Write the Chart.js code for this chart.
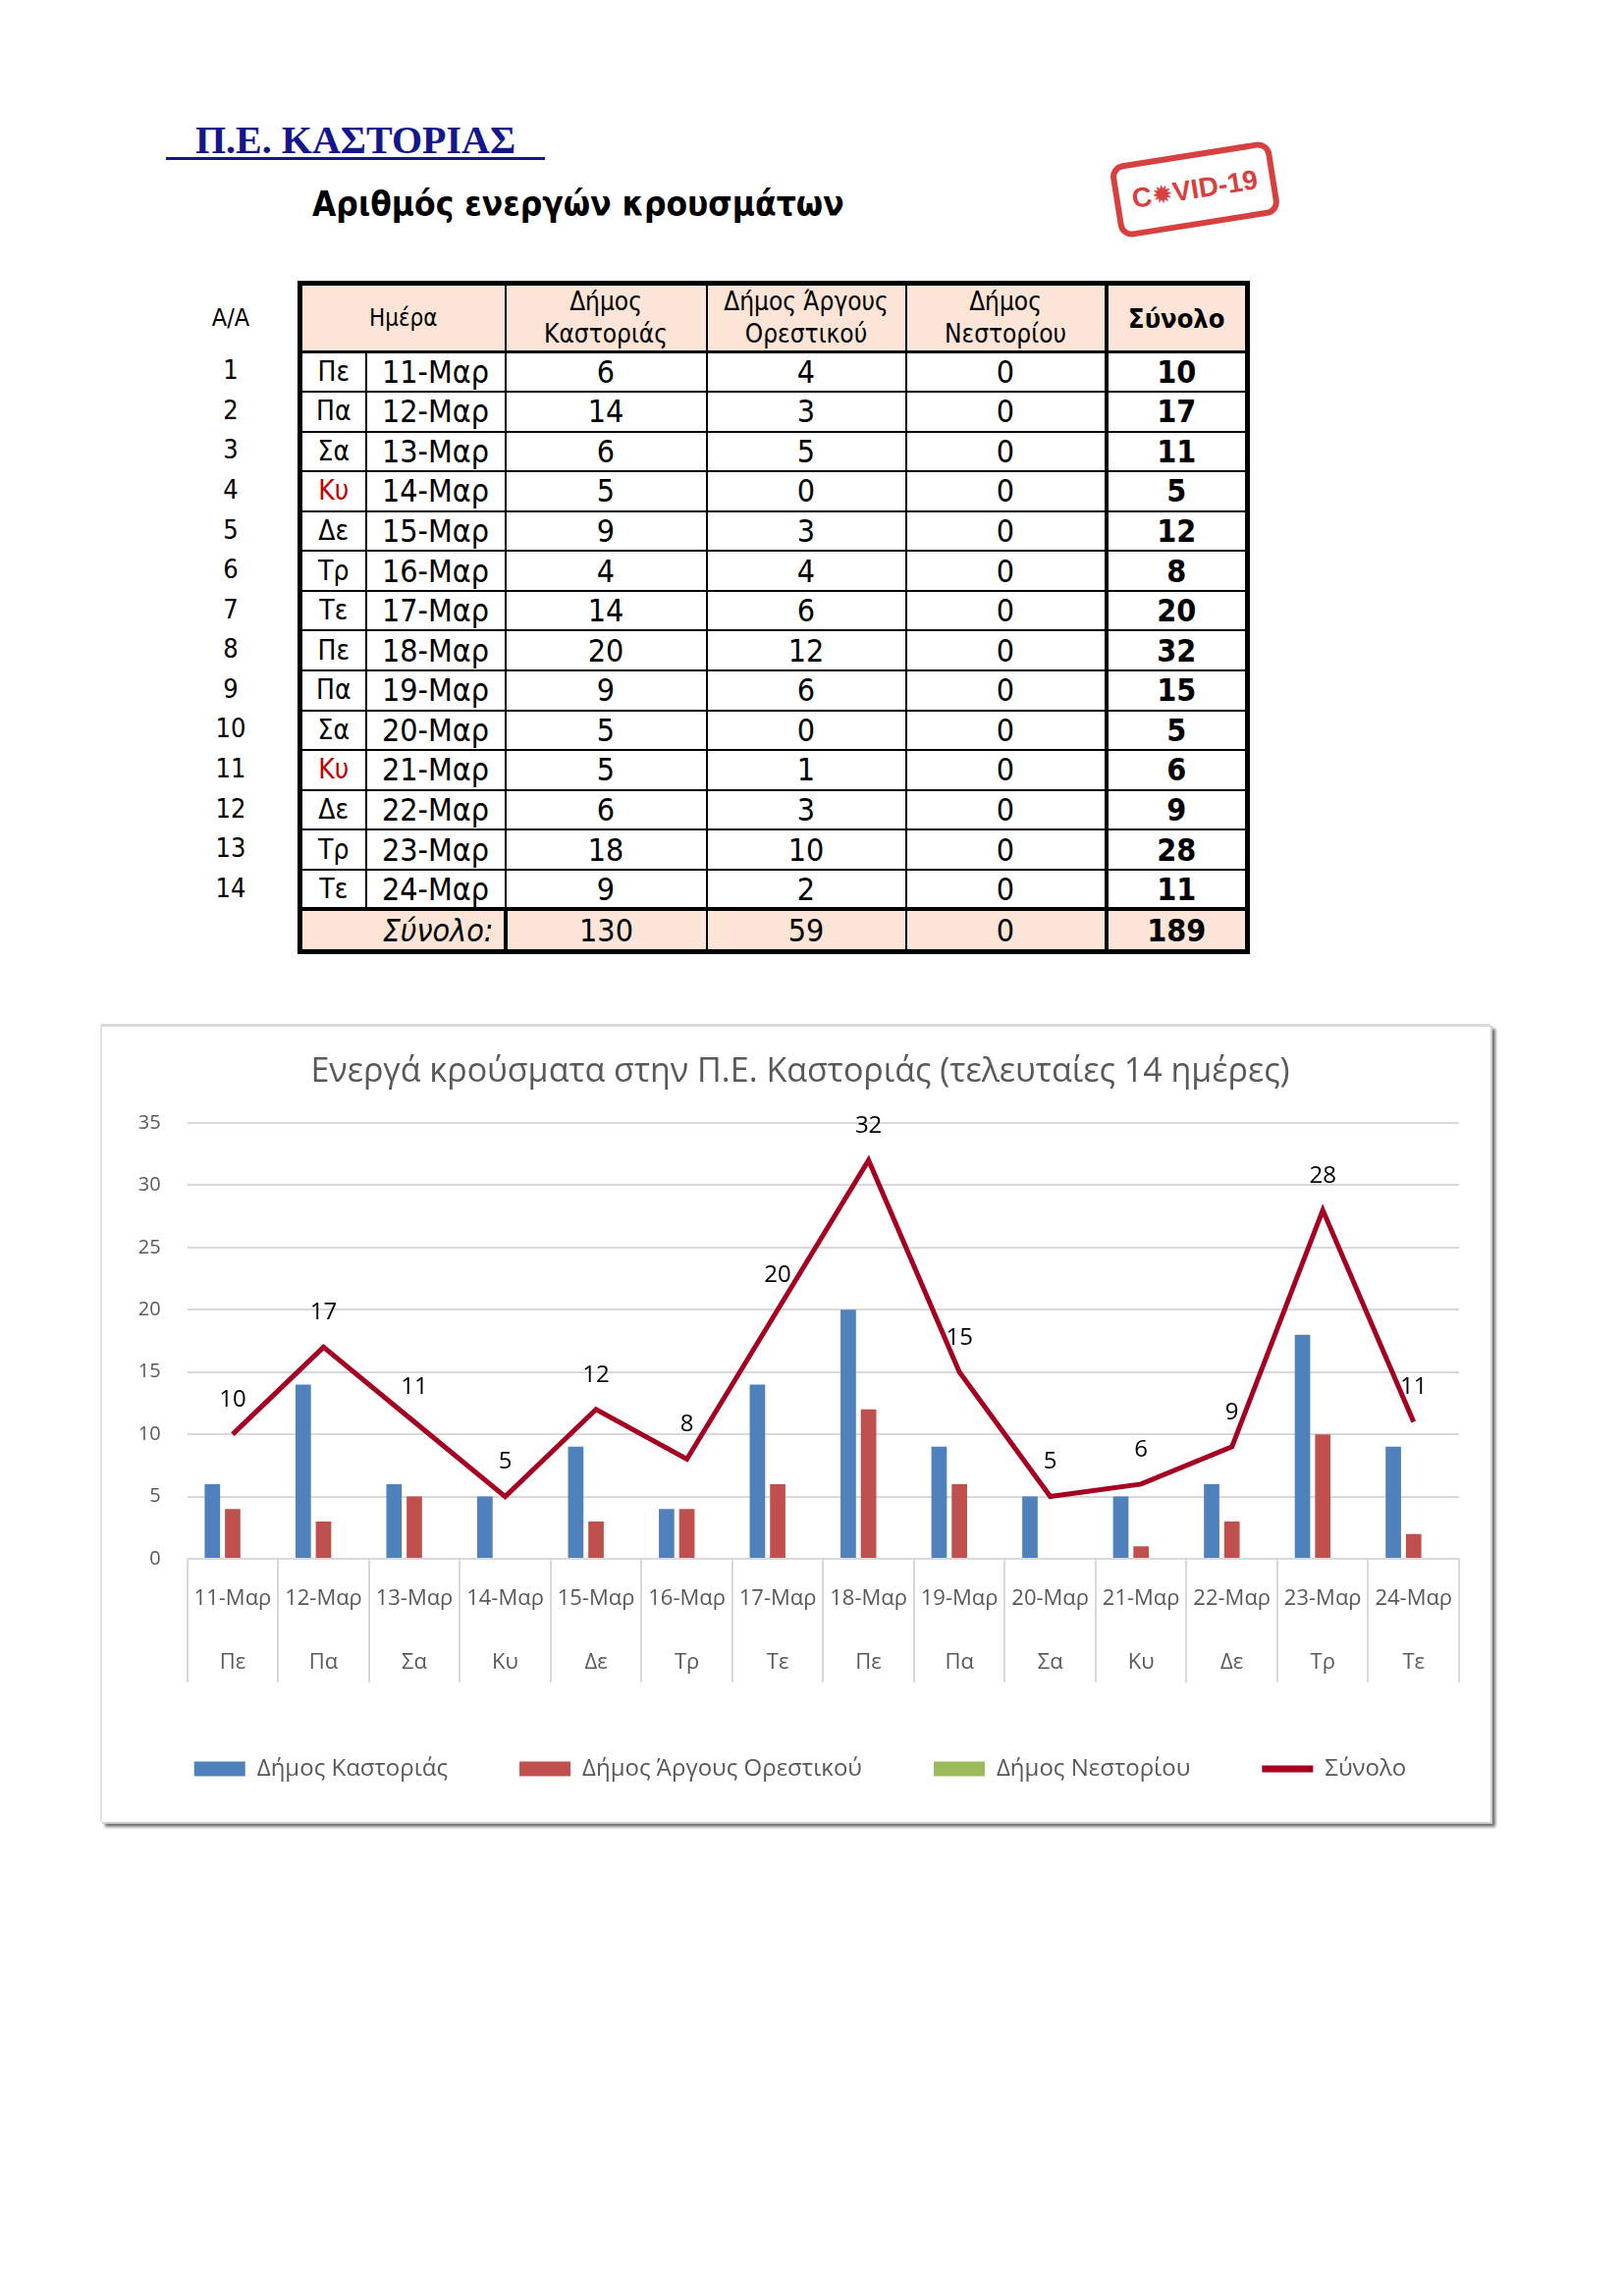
<!DOCTYPE html>
<html lang="el">
<head>
<meta charset="utf-8">
<title>Π.Ε. Καστοριάς - ενεργά κρούσματα</title>
<script src="https://cdn.jsdelivr.net/npm/chart.js@4.4.1/dist/chart.umd.min.js"></script>
<style>
  body { margin: 0; width: 1654px; height: 2339px; background: #fff; position: relative; overflow: hidden; }
  #pageTitle {
    position: absolute; left: 169px; top: 119px; line-height: 1;
    font: bold 40px 'Liberation Serif', serif; color: #15158c; white-space: pre;
    text-decoration: underline; text-decoration-thickness: 3px; text-underline-offset: 4px;
  }
  #subTitle {
    position: absolute; left: 318px; top: 188px; line-height: 1; white-space: nowrap;
    font: bold 35px 'DejaVu Sans Condensed', 'DejaVu Sans', sans-serif; color: #000;
  }
  #stamp {
    position: absolute; left: 1134px; top: 155px; width: 166px; height: 76px; box-sizing: border-box;
    border: 6px solid #d42b2b; border-radius: 14px; transform: rotate(-9deg);
    color: #d42b2b; font: bold 28px 'Liberation Sans', sans-serif; text-align: center; line-height: 64px;
    opacity: 0.9;
  }
  #stamp span { font-family: 'DejaVu Sans'; font-size: 26px; }
  #cases {
    position: absolute; left: 303px; top: 286px; border-collapse: collapse; table-layout: fixed;
    font-family: 'DejaVu Sans Condensed', 'DejaVu Sans', sans-serif; color: #000;
    border: 5px solid #000;
  }
  #cases td { border: 2px solid #000; text-align: center; padding: 0; font-size: 32px; line-height: 1; }
  #cases tr.head td { background: #fce4d6; font-size: 26px; line-height: 33px; border-bottom-width: 3px; }
  #cases tr.foot td { background: #fce4d6; border-top-width: 4px; }
  #cases td.sum { font-weight: bold; font-size: 32px; border-left-width: 4px; }
  #cases td.red { color: #c00000; }
  .aa { position: absolute; width: 60px; left: 205px; text-align: center; font: 27px 'DejaVu Sans Condensed', 'DejaVu Sans', sans-serif; line-height: 1; }
  #frame {
    position: absolute; left: 102px; top: 1043px; width: 1416px; height: 813px; box-sizing: border-box;
    border-top: 3px solid #d9d9d9; border-left: 2px solid #e3e3e3;
    box-shadow: 2px 2px 0 #cfcfcf, 5px 5px 3px #6e6e6e;
  }
  #chartWrap { position: absolute; left: 102px; top: 1043px; width: 1416px; height: 813px; }
</style>
</head>
<body>
<div id="pageTitle">   Π.Ε. ΚΑΣΤΟΡΙΑΣ   </div>
<div id="subTitle">Αριθμός ενεργών κρουσμάτων</div>
<div id="stamp">C<span>✹</span>VID-19</div>
<table id="cases"></table>
<div id="frame"></div>
<div id="chartWrap"><canvas id="chart" width="1416" height="813"></canvas></div>
<script>
// δεδομένα τελευταίων 14 ημερών
const dates = ['11-Μαρ', '12-Μαρ', '13-Μαρ', '14-Μαρ', '15-Μαρ', '16-Μαρ', '17-Μαρ',
               '18-Μαρ', '19-Μαρ', '20-Μαρ', '21-Μαρ', '22-Μαρ', '23-Μαρ', '24-Μαρ'];
const days = ['Πε', 'Πα', 'Σα', 'Κυ', 'Δε', 'Τρ', 'Τε', 'Πε', 'Πα', 'Σα', 'Κυ', 'Δε', 'Τρ', 'Τε'];
const kastoria = [6, 14, 6, 5, 9, 4, 14, 20, 9, 5, 5, 6, 18, 9];
const argos = [4, 3, 5, 0, 3, 4, 6, 12, 6, 0, 1, 3, 10, 2];
const nestorio = [0, 0, 0, 0, 0, 0, 0, 0, 0, 0, 0, 0, 0, 0];
const totals = [10, 17, 11, 5, 12, 8, 20, 32, 15, 5, 6, 9, 28, 11];
const columnTotals = [130, 59, 0, 189];
const seriesNames = ['Δήμος Καστοριάς', 'Δήμος Άργους Ορεστικού', 'Δήμος Νεστορίου', 'Σύνολο'];

// πίνακας
const colWidths = [67, 142, 205, 203, 204, 144];
const headHeight = 69, rowHeight = 40.57, footHeight = 43;
const table = document.getElementById('cases');
let html = '<colgroup>' + colWidths.map(w => `<col style="width:${w}px">`).join('') + '</colgroup>';
html += `<tr class="head" style="height:${headHeight}px"><td colspan="2" style="font-size:24px">Ημέρα</td>` +
        '<td>Δήμος<br>Καστοριάς</td><td>Δήμος Άργους<br>Ορεστικού</td><td>Δήμος<br>Νεστορίου</td>' +
        '<td class="sum" style="font-size:27px">Σύνολο</td></tr>';
dates.forEach((d, i) => {
    const red = days[i] === 'Κυ' ? ' class="red"' : '';
    html += `<tr style="height:${rowHeight}px"><td${red} style="font-size:28px">${days[i]}</td><td>${d}</td>` +
            `<td>${kastoria[i]}</td><td>${argos[i]}</td><td>${nestorio[i]}</td><td class="sum">${totals[i]}</td></tr>`;
});
html += `<tr class="foot" style="height:${footHeight}px"><td colspan="2" style="text-align:right;font-style:italic;padding-right:10px">Σύνολο:</td>` +
        `<td style="border-left-width:4px">${columnTotals[0]}</td><td>${columnTotals[1]}</td><td>${columnTotals[2]}</td>` +
        `<td class="sum">${columnTotals[3]}</td></tr>`;
table.innerHTML = html;

// στήλη Α/Α
function addAA(text, centerY, size) {
    const el = document.createElement('div');
    el.className = 'aa';
    el.textContent = text;
    if (size) el.style.fontSize = size + 'px';
    el.style.top = (centerY - 14) + 'px';
    document.body.appendChild(el);
}
addAA('A/A', 325, 25);
dates.forEach((d, i) => addAA(String(i + 1), 357 + rowHeight * (i + 0.5)));

// ετικέτες τιμών πάνω από τη γραμμή Σύνολο
const lineLabels = {
    id: 'lineLabels',
    afterDatasetsDraw(chart) {
        const meta = chart.getDatasetMeta(3);
        const ctx = chart.ctx;
        ctx.save();
        ctx.font = "24px 'Open Sans'";
        ctx.fillStyle = '#000';
        ctx.textAlign = 'center';
        ctx.textBaseline = 'middle';
        meta.data.forEach((pt, i) => ctx.fillText(totals[i], pt.x, pt.y - 35));
        ctx.restore();
    }
};

Chart.defaults.font.family = "'Open Sans'";
Chart.defaults.color = '#595959';

new Chart(document.getElementById('chart'), {
    type: 'bar',
    data: {
        labels: dates.map((d, i) => [d, days[i]]),
        datasets: [
            { label: seriesNames[0], data: kastoria, backgroundColor: '#4f81bd', pointStyle: 'rect', order: 1 },
            { label: seriesNames[1], data: argos, backgroundColor: '#c0504d', pointStyle: 'rect', order: 1 },
            { label: seriesNames[2], data: nestorio, backgroundColor: '#9bbb59', pointStyle: 'rect', order: 1 },
            { type: 'line', label: seriesNames[3], data: totals, borderColor: '#a50021', backgroundColor: '#a50021',
              borderWidth: 5, pointRadius: 0, tension: 0, pointStyle: 'line', order: 0 }
        ]
    },
    options: {
        responsive: false,
        animation: false,
        categoryPercentage: 0.67,
        barPercentage: 0.76,
        layout: { padding: { left: 10, right: 0, top: 0, bottom: 32 } },
        scales: {
            x: {
                grid: { offset: true, drawOnChartArea: false, drawTicks: true, tickLength: 126, color: '#d9d9d9', lineWidth: 2 },
                border: { display: false },
                ticks: { autoSkip: false, maxRotation: 0, padding: -117.5, color: '#595959',
                         font: { size: 22, lineHeight: '65px' } },
                afterFit(scale) { scale.height = 129; }
            },
            y: {
                min: 0, max: 35,
                grid: { color: '#d9d9d9', lineWidth: 2, drawTicks: false },
                border: { display: false },
                ticks: { stepSize: 5, padding: 27, color: '#595959', font: { size: 20 } },
                afterFit(scale) { scale.width = 78.7; }
            },
            // κενό περιθώριο δεξιά της περιοχής σχεδίασης
            yRight: {
                type: 'linear', position: 'right',
                grid: { display: false }, border: { display: false }, ticks: { display: false },
                afterFit(scale) { scale.width = 32; }
            }
        },
        plugins: {
            title: {
                display: true,
                text: 'Ενεργά κρούσματα στην Π.Ε. Καστοριάς (τελευταίες 14 ημέρες)',
                color: '#595959',
                font: { size: 34, weight: 'normal', lineHeight: 1.2 },
                padding: { top: 28.6, bottom: 31.6 }
            },
            legend: {
                position: 'bottom',
                labels: {
                    usePointStyle: true,
                    pointStyleWidth: 52,
                    boxHeight: 15,
                    padding: 73,
                    color: '#595959',
                    font: { size: 24 },
                    sort: (a, b) => a.datasetIndex - b.datasetIndex,
                    generateLabels(chart) {
                        const items = Chart.defaults.plugins.legend.labels.generateLabels(chart);
                        items.forEach(it => { it.lineWidth = it.datasetIndex === 3 ? 7 : 0; });
                        return items;
                    }
                }
            },
            tooltip: { enabled: false }
        }
    },
    plugins: [lineLabels]
});
</script>
</body>
</html>
